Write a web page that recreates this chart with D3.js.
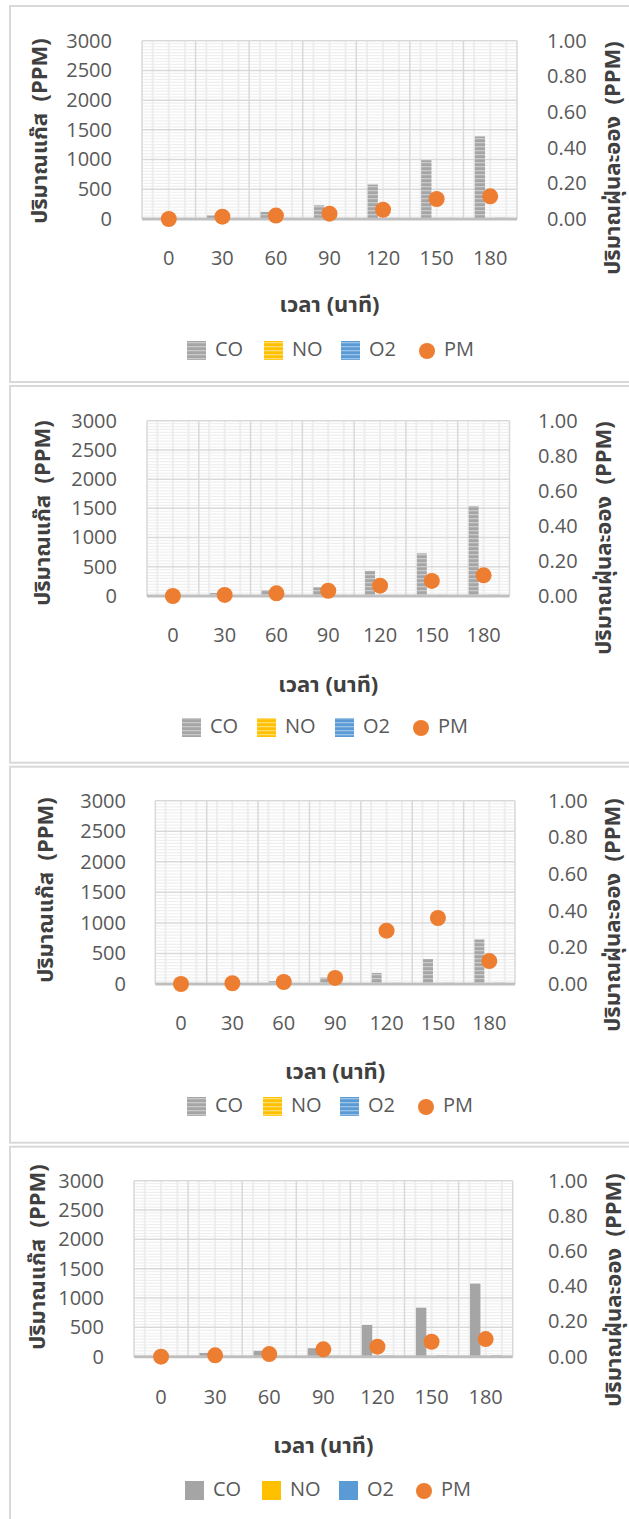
<!DOCTYPE html>
<html><head><meta charset="utf-8">
<script src="https://cdn.jsdelivr.net/npm/d3@7"></script>
<style>
body{margin:0;background:#fff;}
svg{display:block;}
</style></head>
<body><svg id="c" width="629" height="1519"></svg>
<script>
// ---------- data ----------
const categories = ["0","30","60","90","120","150","180"];
const series = ["CO","NO","O2"];
const leftTicks = [0,500,1000,1500,2000,2500,3000];
const rightTicks = [0,0.2,0.4,0.6,0.8,1.0];

const co1 = [0, 60, 120, 230, 580, 990, 1390];
const no1 = [2, 2, 3, 3, 4, 4, 5];
const o21 = [8, 10, 12, 14, 16, 18, 20];
const pm1 = [0.0, 0.013, 0.019, 0.030, 0.052, 0.112, 0.127];

const co2 = [0, 50, 100, 150, 430, 730, 1540];
const no2 = [2, 2, 3, 3, 4, 4, 5];
const o22 = [8, 10, 12, 14, 18, 20, 22];
const pm2 = [0.0, 0.006, 0.015, 0.030, 0.059, 0.086, 0.118];

const co3 = [0, 15, 45, 105, 180, 410, 730];
const no3 = [2, 2, 3, 3, 4, 4, 5];
const o23 = [8, 10, 12, 14, 18, 20, 22];
const pm3 = [0.0, 0.004, 0.011, 0.033, 0.291, 0.360, 0.125];

const co4 = [0, 65, 100, 145, 540, 835, 1245];
const no4 = [2, 2, 3, 3, 4, 4, 5];
const o24 = [8, 10, 12, 14, 18, 20, 22];
const pm4 = [0.0, 0.008, 0.015, 0.042, 0.057, 0.085, 0.100];

const leftTitle = "ปริมาณแก๊ส  (PPM)";
const rightTitle = "ปริมาณฝุ่นละออง  (PPM)";
const xTitle = "เวลา (นาที)";
const legendNames = ["CO","NO","O2","PM"];

// ---------- layout ----------
const panels = [
  {co:co1,no:no1,o2:o21,pm:pm1,striped:true, top:6,bottom:382,
   px0:142,px1:517,py0:40.7,py1:219, lt:112, rt:547, catY:258, xtY:305, legY:351,
   ltx:40,lty:131, rtx:613,rty:158, legX:[187,264,341,427]},
  {co:co2,no:no2,o2:o22,pm:pm2,striped:true, top:386,bottom:762.7,
   px0:147,px1:509.5,py0:420.7,py1:596, lt:117, rt:538, catY:635, xtY:685, legY:728,
   ltx:43,lty:513, rtx:604,rty:538, legX:[182,257,335,421]},
  {co:co3,no:no3,o2:o23,pm:pm3,striped:true, top:766.7,bottom:1142.7,
   px0:155.3,px1:515,py0:800.7,py1:984, lt:126, rt:548, catY:1023, xtY:1072, legY:1107,
   ltx:46,lty:890, rtx:613,rty:915, legX:[187,263,340,426]},
  {co:co4,no:no4,o2:o24,pm:pm4,striped:false, top:1146.7,bottom:1540,
   px0:134,px1:512.7,py0:1180.7,py1:1356.7, lt:104, rt:548, catY:1397, xtY:1446, legY:1491,
   ltx:38,lty:1257, rtx:614,rty:1290, legX:[185,262,339,424]}
];

const colors = {CO:"#a5a5a5", NO:"#ffc000", O2:"#5b9bd5", PM:"#ed7d31"};
const light = {CO:"#c9c9c9", NO:"#ffdc70", O2:"#9dc3e6"};

const svg = d3.select("#c");
const defs = svg.append("defs");
series.forEach(s=>{
  const p = defs.append("pattern").attr("id","pat"+s).attr("patternUnits","userSpaceOnUse")
    .attr("width",4).attr("height",4);
  p.append("rect").attr("width",4).attr("height",4).attr("fill",colors[s]);
  p.append("rect").attr("y",2).attr("width",4).attr("height",1.3).attr("fill",light[s]);
});

const fontNum = '"Open Sans","Noto Sans",sans-serif';
const fontThai = '"Noto Sans Thai","Noto Sans","Open Sans",sans-serif';
const numSize = 20, titleSize = 22;

panels.forEach(P=>{
  const g = svg.append("g");
  g.append("rect").attr("x",10).attr("y",P.top).attr("width",640).attr("height",P.bottom-P.top)
    .attr("fill","#fff").attr("stroke","#d9d9d9").attr("stroke-width",2);

  const x = d3.scaleBand().domain(categories).range([P.px0,P.px1]).padding(0);
  const y = d3.scaleLinear().domain([0,3000]).range([P.py1,P.py0]);
  const y2 = d3.scaleLinear().domain([0,1]).range([P.py1,P.py0]);
  const bw = x.bandwidth();
  const barW = bw/5.19;

  g.append("g").selectAll("line").data(d3.range(0,3001,50).filter(v=>v%500!==0)).join("line")
    .attr("x1",P.px0).attr("x2",P.px1).attr("y1",d=>y(d)).attr("y2",d=>y(d))
    .attr("stroke","#efefef").attr("stroke-width",1.2);
  const minorV = [];
  categories.forEach(c=>[0.2,0.5,0.8].forEach(f=>minorV.push(x(c)+f*bw)));
  g.append("g").selectAll("line").data(minorV).join("line")
    .attr("x1",d=>d).attr("x2",d=>d).attr("y1",P.py0).attr("y2",P.py1)
    .attr("stroke","#ededed").attr("stroke-width",2);
  g.append("g").selectAll("line").data(leftTicks.slice(1)).join("line")
    .attr("x1",P.px0).attr("x2",P.px1).attr("y1",d=>y(d)).attr("y2",d=>y(d))
    .attr("stroke","#d9d9d9").attr("stroke-width",1.5);
  const majV = categories.map(c=>x(c)).concat([P.px1]);
  g.append("g").selectAll("line").data(majV).join("line")
    .attr("x1",d=>d).attr("x2",d=>d).attr("y1",P.py0).attr("y2",P.py1)
    .attr("stroke","#d9d9d9").attr("stroke-width",1.5);

  const inner = d3.scaleBand().domain(series).range([0,3*barW]).padding(0);
  series.forEach(s=>{
    const vals = s==="CO"?P.co:(s==="NO"?P.no:P.o2);
    g.append("g").selectAll("rect").data(vals).join("rect")
      .attr("x",(d,i)=>x(categories[i])+bw/2-1.5*barW+inner(s))
      .attr("width",inner.bandwidth())
      .attr("y",d=>y(d)).attr("height",d=>y(0)-y(d))
      .attr("fill",P.striped?`url(#pat${s})`:colors[s]);
  });

  g.append("line").attr("x1",P.px0).attr("x2",P.px1).attr("y1",y(0)).attr("y2",y(0))
    .attr("stroke","#bfbfbf").attr("stroke-width",3);

  g.append("g").selectAll("circle").data(P.pm).join("circle")
    .attr("cx",(d,i)=>x(categories[i])+bw/2).attr("cy",d=>y2(d)).attr("r",8)
    .attr("fill",colors.PM);

  const la = g.append("g").attr("transform",`translate(${P.lt},0)`)
    .call(d3.axisLeft(y).tickValues(leftTicks).tickSize(0).tickPadding(0).tickFormat(d3.format("d")));
  const ra = g.append("g").attr("transform",`translate(${P.rt},0)`)
    .call(d3.axisRight(y2).tickValues(rightTicks).tickSize(0).tickPadding(0).tickFormat(d3.format(".2f")));
  const xa = g.append("g").attr("transform",`translate(0,${P.catY-7})`)
    .call(d3.axisBottom(x).tickSize(0).tickPadding(0));
  [la,ra,xa].forEach(a=>{
    a.select(".domain").remove();
    a.selectAll("text").attr("font-family",fontNum).attr("font-size",numSize).attr("fill","#595959");
  });

  const title = (t)=>t.attr("text-anchor","middle").attr("dominant-baseline","central")
    .attr("font-family",fontThai).attr("font-weight","bold").attr("font-size",titleSize)
    .attr("fill","#404040").style("white-space","pre");
  g.append("text").attr("transform",`translate(${P.ltx},${P.lty}) rotate(-90)`).call(title).text(leftTitle);
  g.append("text").attr("transform",`translate(${P.rtx},${P.rty}) rotate(-90)`).call(title).text(rightTitle);
  g.append("text").attr("x",(P.px0+P.px1)/2).attr("y",P.xtY).call(title).text(xTitle);

  legendNames.forEach((n,i)=>{
    const lx = P.legX[i];
    if(n==="PM"){
      g.append("circle").attr("cx",lx).attr("cy",P.legY).attr("r",8).attr("fill",colors.PM);
      g.append("text").attr("x",lx+17).attr("y",P.legY-3).attr("dominant-baseline","central")
        .attr("font-family",fontNum).attr("font-size",numSize).attr("fill","#595959").text(n);
    } else {
      g.append("rect").attr("x",lx).attr("y",P.legY-10).attr("width",19).attr("height",19)
        .attr("fill",P.striped?`url(#pat${n})`:colors[n]);
      g.append("text").attr("x",lx+28).attr("y",P.legY-3).attr("dominant-baseline","central")
        .attr("font-family",fontNum).attr("font-size",numSize).attr("fill","#595959").text(n);
    }
  });
});
</script></body></html>
